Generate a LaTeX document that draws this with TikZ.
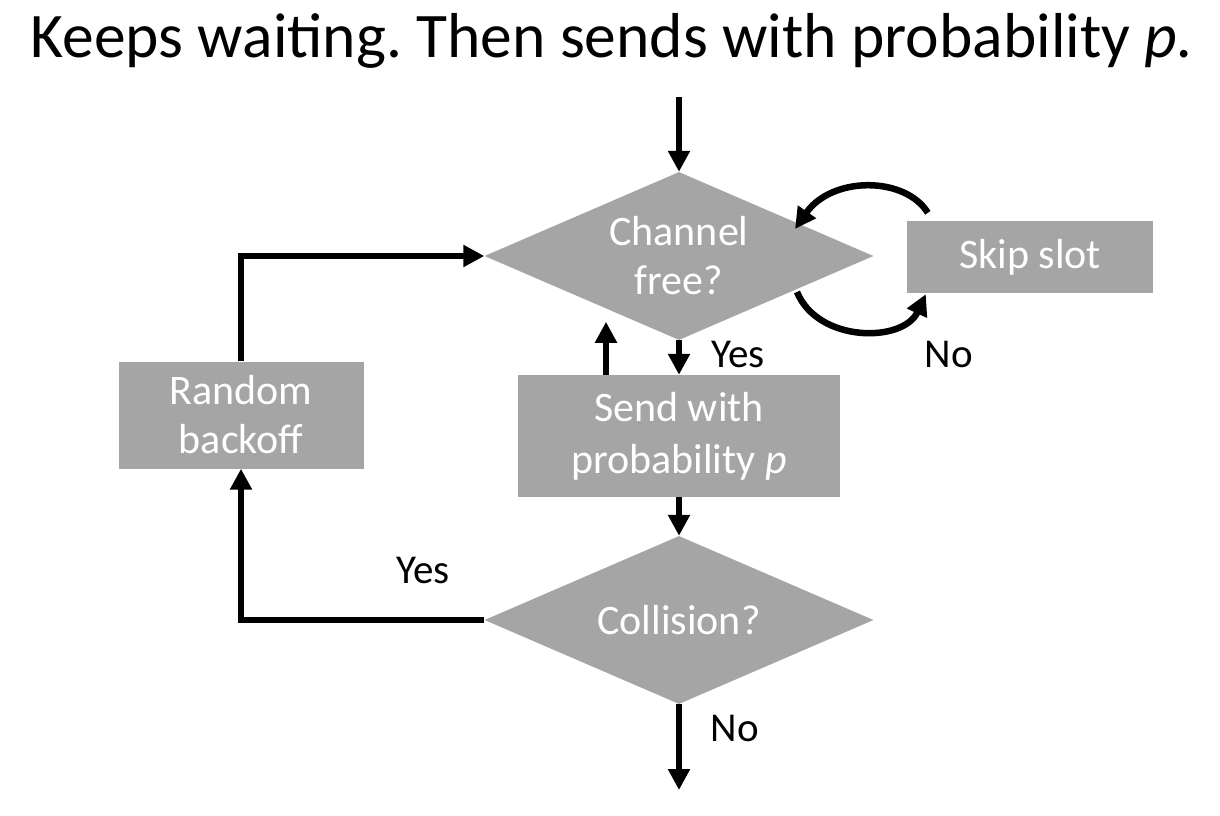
\documentclass[tikz,border=0pt]{standalone}
\usepackage{fontspec}
\setmainfont{Carlito}
\usetikzlibrary{shapes.geometric,arrows.meta,calc}
\definecolor{boxgray}{HTML}{A5A5A5}
\frenchspacing
\begin{document}
\begin{tikzpicture}[x=1pt,y=-1pt,
  flow/.style={line width=6.5pt,-{Triangle[length=21pt,width=21pt]}},
  dec/.style={diamond,fill=boxgray,inner sep=0pt,minimum width=389pt,minimum height=168pt,aspect=2.3,text=white,font=\fontsize{42}{49}\selectfont,align=center},
  procbox/.style={rectangle,fill=boxgray,inner sep=0pt,text=white,font=\fontsize{42}{49}\selectfont,align=center},
  lbl/.style={font=\fontsize{41}{48}\selectfont,inner sep=0pt}]
\fill[white] (0,0) rectangle (1220,816);
\useasboundingbox (0,0) rectangle (1220,816);
\node[anchor=base,inner sep=0pt,font=\fontsize{63.5}{72}\selectfont] (title) at (612,57) {Keeps waiting. Then sends with probability \textit{p.}};
\node[dec] (chan) at (679,256) {Channel\\free?};
\node[procbox,minimum width=246pt,minimum height=72pt] (skip) at (1030,257) {Skip slot};
\node[procbox,minimum width=322pt,minimum height=122pt,font=\fontsize{42}{52}\selectfont] (send) at (679,436) {Send with\\probability \textit{p}};
\node[dec] (coll) at (679,620) {Collision?};
\node[procbox,minimum width=245pt,minimum height=107pt] (rand) at (241,415) {Random\\backoff};
\coordinate (start) at (679,97);
\coordinate (stop) at (679,790);
\draw[flow] (start) -- (chan.north);
\draw[flow] (chan.south) -- (send.north);
\draw[flow] ($(send.north)+(-73,0)$) -- ++(0,-53);
\draw[flow] (send.south) -- (coll.north);
\draw[flow] (coll.south) -- (stop);
\draw[flow] (coll.west) -| (rand.south);
\draw[flow] (rand.north) |- (chan.west);
\draw[flow] ($(skip.north west)+(21,-8)$) .. controls (905,176) and (832,176) .. (795,229);
\draw[flow] (797,292) .. controls (818,343) and (903,343) .. ($(skip.south west)+(19,1)$);
\node[lbl] (yes1) at (738,354) {Yes};
\node[lbl] (no1) at (949,354) {No};
\node[lbl] (yes2) at (423,570) {Yes};
\node[lbl] (no2) at (735,728) {No};
\end{tikzpicture}
\end{document}
